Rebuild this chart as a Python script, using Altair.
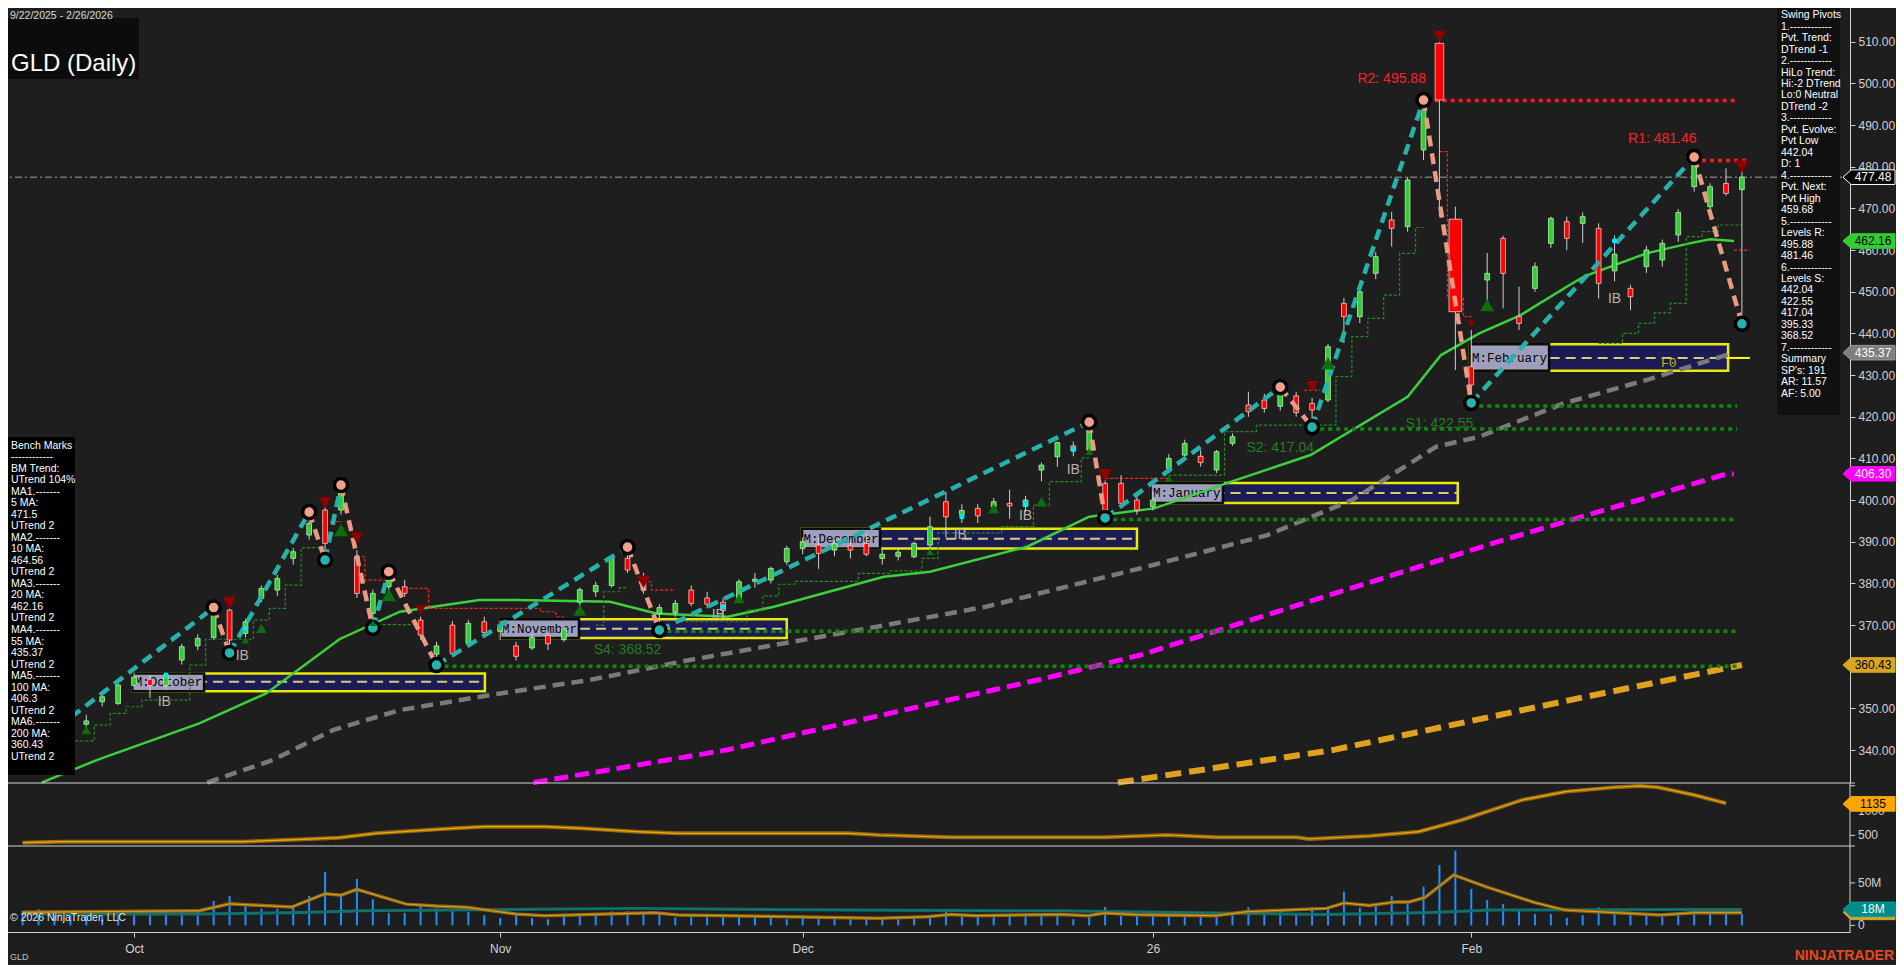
import altair as alt
import pandas as pd

# ---------------- daily bars (9/22/2025 .. 2/26/2026), index 0..108 ----------------
OPEN = [338.5, 341.0, 343.5, 344.0, 346.2, 351.6, 351.2, 355.5, 357.0, 355.5,
        361.6, 365.0, 367.0, 373.6, 368.0, 376.4, 378.4, 386.0, 391.6, 397.6,
        397.6, 386.4, 372.8, 379.2, 379.2, 371.2, 363.0, 370.0, 365.6, 370.8,
        368.5, 365.0, 364.5, 367.5, 366.5, 375.5, 378.0, 379.5, 386.0, 381.6,
        372.8, 373.0, 378.4, 376.5, 375.5, 376.0, 380.5, 380.8, 385.2, 388.4,
        389.2, 388.0, 389.0, 389.6, 386.0, 386.5, 386.4, 389.2, 399.6, 396.5,
        398.0, 398.4, 399.2, 398.5, 407.2, 410.4, 413.0, 412.0, 404.0, 404.0,
        400.0, 398.4, 407.6, 410.8, 410.5, 407.2, 413.6, 422.8, 424.0, 422.5,
        425.0, 423.2, 424.0, 447.2, 444.0, 454.4, 467.2, 465.6, 484.0, 509.6,
        467.4, 432.0, 452.8, 462.8, 444.0, 450.8, 461.6, 466.8, 466.4, 465.2,
        455.0, 450.8, 456.0, 457.6, 463.6, 475.2, 470.4, 476.0, 474.5]
HIGH = [341.5, 344.0, 345.5, 346.5, 348.4, 353.5, 356.0, 358.5, 358.0, 358.5,
        365.5, 367.8, 374.2, 374.0, 371.5, 379.5, 382.0, 388.5, 397.1, 398.5,
        403.6, 388.0, 378.5, 382.8, 380.8, 372.0, 366.0, 371.0, 371.2, 372.0,
        371.0, 366.0, 368.0, 368.5, 370.0, 379.0, 380.4, 386.8, 388.7, 382.5,
        375.0, 376.0, 379.5, 378.0, 376.5, 381.0, 382.5, 384.0, 389.0, 391.0,
        391.0, 390.5, 390.5, 392.0, 388.0, 388.5, 390.0, 396.0, 402.0, 399.0,
        399.0, 400.5, 402.5, 401.0, 409.0, 414.0, 414.0, 418.7, 406.0, 406.0,
        401.5, 402.0, 411.0, 414.5, 412.0, 412.0, 416.0, 426.0, 425.5, 427.1,
        426.0, 424.5, 437.5, 448.5, 451.5, 459.5, 469.2, 477.5, 496.0, 510.0,
        470.4, 440.8, 459.3, 463.4, 451.2, 457.0, 468.0, 468.0, 469.0, 466.4,
        463.5, 451.6, 461.0, 462.5, 469.8, 481.5, 476.0, 479.6, 479.0]
LOW = [337.5, 340.0, 342.0, 342.5, 344.0, 350.5, 350.8, 354.5, 352.5, 354.5,
       360.5, 364.0, 366.5, 363.3, 366.0, 375.5, 377.0, 384.5, 390.5, 385.6,
       396.5, 376.5, 369.2, 377.5, 376.8, 366.5, 360.4, 362.5, 365.0, 367.5,
       366.5, 361.5, 364.0, 364.0, 366.0, 374.5, 376.8, 379.0, 382.5, 377.5,
       368.8, 372.0, 374.5, 374.0, 371.5, 375.5, 379.0, 380.0, 384.5, 387.0,
       383.5, 386.5, 386.0, 386.5, 384.5, 385.5, 386.0, 388.5, 391.0, 394.5,
       394.5, 397.5, 395.5, 397.0, 404.5, 408.0, 410.5, 411.5, 395.7, 398.5,
       396.5, 397.5, 406.5, 410.0, 408.0, 406.5, 413.0, 420.0, 421.0, 421.5,
       420.0, 417.5, 423.5, 437.7, 442.5, 453.0, 460.8, 464.4, 481.6, 468.0,
       431.2, 423.3, 446.1, 446.0, 440.8, 450.0, 460.5, 460.0, 461.7, 448.4,
       452.5, 445.6, 454.5, 456.0, 462.0, 474.0, 469.0, 473.0, 442.3]
CLOSE = [340.8, 343.5, 344.0, 345.8, 347.0, 352.8, 355.6, 357.5, 355.5, 357.8,
         364.8, 366.8, 372.8, 366.4, 370.8, 378.8, 381.2, 387.6, 394.4, 389.6,
         401.6, 377.6, 377.6, 380.8, 377.6, 367.6, 365.0, 363.2, 370.4, 368.2,
         369.5, 362.5, 367.0, 365.5, 369.0, 378.5, 379.5, 386.0, 383.2, 378.4,
         374.2, 375.2, 375.2, 375.0, 373.5, 380.4, 381.0, 383.6, 388.4, 390.0,
         387.2, 389.5, 388.0, 387.0, 387.0, 387.5, 389.6, 393.6, 396.0, 397.5,
         396.2, 399.6, 398.6, 400.0, 408.4, 413.8, 411.8, 417.0, 397.6, 399.2,
         397.6, 400.0, 410.0, 413.6, 409.0, 411.6, 415.2, 421.2, 422.0, 425.5,
         421.0, 421.6, 436.8, 444.0, 450.0, 458.4, 465.2, 476.8, 493.6, 496.0,
         445.2, 427.6, 454.4, 454.4, 442.4, 456.0, 467.6, 462.8, 468.0, 452.0,
         459.0, 448.8, 460.0, 461.6, 469.0, 480.8, 475.2, 473.6, 477.48]
VOLUME_M = [17, 19, 15, 17, 15, 17, 17, 17, 17.5, 17,
            18, 18.5, 28.7, 34.6, 25, 19.5, 19.5, 22, 34.6, 62.8,
            37, 54.6, 30.7, 14.6, 14.6, 24.4, 20, 19, 15.8, 12,
            8.7, 12, 8.7, 7.2, 12, 13.7, 11, 16.5, 16.5, 15.8,
            15, 9.2, 12, 13.7, 13.7, 11, 11, 9.8, 7.2, 12,
            8.7, 9.8, 7.8, 9.8, 7.2, 7.2, 7.8, 12, 18, 12,
            9.8, 11, 12, 10.6, 13.7, 13.7, 7.2, 11, 21.6, 11,
            11, 11, 13.7, 12, 12, 11, 13.7, 21.2, 16.9, 19,
            13.7, 21.6, 21.6, 39.7, 20.8, 23.1, 34.9, 27.8, 45.6, 71,
            87.9, 42.9, 30, 25.1, 18, 13.3, 13.3, 8.9, 12, 21.2,
            13.3, 12, 11, 9.8, 13.7, 18, 13.7, 13.7, 13.7]

TICK_IDX = [7, 30, 49, 71, 91]
TICK_LBL = ["Oct", "Nov", "Dec", "26", "Feb"]
PRICE_TICKS = [340, 350, 360, 370, 380, 390, 400, 410, 420, 430, 440, 450, 460, 470, 480, 490, 500, 510]
IND_TICKS = [500, 1000, 1500]
IND_TICK_LBL = ["500", "1000", ""]
VOL_TICKS = [0, 50]
VOL_TICK_LBL = ["0", "50M"]

# moving averages (bar index, value)
MA20_I = [1.2, 4.65, 11.1, 15.3, 19.9, 23.7, 25.8, 28.7, 31, 36.9, 39.8, 44.3, 47.2, 54.1, 57, 63.1,
          67, 71.1, 75.6, 80.9, 87, 89.1, 91.5, 94.1, 97, 98.1, 102, 104.7, 106, 107.5]
MA20_V = [332.2, 337.6, 346.4, 353.6, 366.6, 373.2, 374.4, 376.0, 376.0, 375.6, 372.8, 372.0, 374.4, 381.6,
          382.8, 388.8, 396.0, 398.0, 404.0, 410.8, 424.8, 434.8, 440.0, 444.4, 451.2, 453.7, 459.2, 461.6,
          462.6, 462.16]
MA55_I = [11.6, 15.7, 19.5, 23.7, 30, 35.6, 41.9, 52.5, 60.5, 70.2, 78.2, 83.5, 88.8, 91.5, 96.8, 102, 107.5]
MA55_V = [332.2, 337.6, 344.8, 349.6, 353.6, 356.8, 361.6, 368.8, 374.4, 383.6, 391.6, 400.0, 412.8, 415.2,
          423.2, 428.8, 435.37]
MA100_I = [32.1, 44.2, 64.2, 70.2, 93, 106.8, 107.5]
MA100_V = [332.2, 340.0, 357.2, 362.8, 390.4, 406.0, 406.3]
MA200_I = [68.8, 82.3, 97.7, 108]
MA200_V = [332.2, 340.0, 352.4, 360.43]

# swing pivots
PIVOT_I = [12, 13, 18, 19, 20, 22, 23, 26, 38, 40, 67, 68, 79, 81, 88, 91, 105, 108]
PIVOT_P = [374.2, 363.3, 397.1, 385.6, 403.6, 369.3, 382.8, 360.4, 388.7, 368.8, 418.7, 395.7, 427.1,
           417.5, 496.0, 423.3, 482.3, 442.3]
PIVOT_T = ["H", "L", "H", "L", "H", "L", "H", "L", "H", "L", "H", "L", "H", "L", "H", "L", "H", "L"]
ZIG_START = (-1.42, 334.8)

# support / resistance levels
LEVEL_NAME = ["R2", "R1", "S1", "S2", "S3", "S4", "S5"]
LEVEL_P = [495.88, 481.46, 422.55, 417.04, 395.33, 368.52, 360.12]
LEVEL_FROM = [88.7, 105, 91, 81, 68, 40, 26]
LEVEL_TO = [107.7, 108.3, 107.7, 107.7, 107.7, 107.7, 107.7]
LEVEL_TXT = ["R2: 495.88", "R1: 481.46", "S1: 422.55", "S2: 417.04", "S3: 395.33", "S4: 368.52", "S5: 360.12"]
LEVEL_TXT_I = [86.0, 103.0, 89.0, 79.0, 66.0, 38.0, 24.0]
LEVEL_TXT_P = [501.0, 486.6, 418.2, 412.6, 390.8, 364.0, 355.4]

# monthly boxes
MONTH_LABEL = ["M:October", "M:November", "M:December", "M:January", "M:February"]
MONTH_X0 = [6.94, 29.99, 48.96, 70.85, 90.9]
MONTH_X1 = [29.04, 48.0, 70.0, 90.15, 107.13]
MONTH_TAG_X1 = [11.40, 34.95, 53.86, 75.40, 95.89]
MONTH_LO = [354.1, 366.9, 388.4, 399.3, 431.0]
MONTH_HI = [358.4, 371.4, 393.1, 404.1, 437.4]
MONTH_MID = [356.4, 369.1, 390.7, 401.7, 434.1]

# trailing step lines (segment -> bars, values)
GSTEP = {
    "a": ([3, 4, 5, 6, 7, 8, 9, 10, 11, 12, 13, 14, 15, 16, 17, 18, 19],
          [342.2, 342.2, 346, 348.8, 350.4, 352, 352, 352, 360.4, 366.6, 366.6, 366.6, 371.2, 374, 379.6, 388.6, 388.6]),
    "b": ([22, 23, 24, 25], [370.1, 370.1, 370.1, 370.1]),
    "c": ([36, 37, 38], [370, 378, 379]),
    "d": ([41, 42, 43, 44, 45, 46, 47, 48, 49, 50, 51, 52, 53, 54, 55, 56, 57, 58, 59, 60, 61, 62, 63, 64, 65, 66, 67],
          [370.8, 370.8, 370.8, 370.8, 370.8, 373.6, 377, 379.8, 380.5, 380.5, 380.5, 380.5, 382.4, 382.4, 383, 383,
           386, 392.1, 392.1, 392.1, 392.1, 393.6, 393.6, 398.8, 404.4, 404.4, 410.1]),
    "e": ([72, 73, 74, 75, 76, 77, 78, 79, 80, 81, 82, 83, 84, 85, 86, 87, 88],
          [406, 406, 406, 406, 416.4, 416.4, 418, 418, 418, 418, 418, 429.6, 439.2, 443.6, 449.2, 459.2, 465.4]),
    "f": ([99, 100, 101, 102, 103, 104, 105, 106, 107, 108],
          [437.6, 437.6, 440, 442.4, 444.9, 447.2, 463.2, 464.4, 466, 466]),
}
RSTEP = {
    "a": ([19, 20], [394.8, 394.8]),
    "b": ([21, 22, 23], [386.4, 380.8, 380.8]),
    "c": ([24, 25, 26, 27, 28, 29, 30, 31, 32, 33, 34], [378.8, 378.8, 374, 374, 374, 374, 374, 374, 374, 373.2, 372]),
    "d": ([39, 40, 41], [380.4, 378.4, 378.4]),
    "e": ([68, 69, 70, 71, 72], [405.2, 405.2, 405.2, 405.2, 405.2]),
    "f": ([80.5, 81.5], [426.4, 426.4]),
    "g": ([89, 90, 91], [483.6, 448.6, 444.0]),
    "h": ([107.5, 108.5], [460, 460]),
}

TRI_UP_I = [4, 14, 15, 20, 22, 23, 35, 45, 57, 61, 64, 67, 72, 82, 92]
TRI_UP_P = [344.8, 366.4, 369.2, 392.8, 370.5, 377.2, 373.6, 376.4, 387.6, 398.0, 399.6, 411.6, 405.2, 432.8, 446.8]
TRI_UP_S = [90, 60, 110, 200, 50, 200, 170, 120, 60, 120, 120, 60, 60, 200, 200]
TRI_DN_I = [13, 19, 21, 25, 39, 68, 81, 89, 91, 108]
TRI_DN_P = [375.3, 399.3, 390.9, 373.6, 380.4, 406.0, 427.2, 511.2, 442.2, 480.0]
TRI_DN_S = [200, 170, 170, 120, 200, 200, 170, 200, 60, 200]

IB_I = [8.9, 13.8, 43.7, 58.9, 63.0, 66.0, 100.0]
IB_P = [351.5, 362.6, 372.5, 391.7, 396.1, 407.2, 448.3]
DOT_I = [9, 14, 44, 59, 63, 66, 100]
DOT_P = [358.0, 369.2, 374.4, 396.0, 399.0, 412.2, 462.2]

VOL_AVG_I = [0, 11.1, 13, 16.9, 19, 20, 21, 24.1, 26, 27.9, 31, 32.8, 36.6, 39.7, 41.2, 48.1, 53.8, 56.8, 58.3,
             59.9, 65.3, 66.9, 68, 69.9, 74.9, 76.9, 81.9, 83, 84.6, 86.2, 87.1, 88.1, 89.9, 91.9, 95, 96.9,
             98.9, 102.9, 105, 108]
VOL_AVG_V = [15.4, 17.2, 25.3, 21.6, 37.3, 35.5, 42.3, 25, 22.7, 21.2, 13.3, 11.4, 13.3, 14.9, 12.2, 10.2, 8.3,
             10.2, 12.9, 11.4, 12.9, 11.4, 14.5, 12.6, 11.4, 16.1, 20, 26.3, 23.5, 27.5, 27.5, 33, 59.3, 45.6,
             26.7, 18, 16.1, 12.2, 14.9, 14.9]
VOL_SLOW_I = [0, 11, 17.6, 21.4, 29, 38.5, 51.9, 58.3, 65, 73.8, 81.8, 88.5, 92.3, 103.9, 108]
VOL_SLOW_V = [13.3, 13.3, 15.2, 17.2, 18.4, 20, 18, 17.4, 17.2, 14.9, 12.9, 15.2, 18, 18.8, 18.6]

IND_I = [0, 2.4, 13.8, 17.6, 19.9, 22.2, 27.1, 29, 32.8, 35.1, 38.6, 41.2, 51.9, 53.8, 58.3, 68, 71.9, 75, 80,
         80.8, 84.6, 87.7, 90.4, 94.2, 96.9, 100, 101.6, 102.7, 105, 107]
IND_V = [353, 373, 373, 421, 454, 542, 643, 675, 675, 643, 575, 542, 542, 508, 462, 462, 508, 462, 462, 427,
         488, 575, 810, 1214, 1381, 1470, 1496, 1470, 1315, 1147]

PRICE_TAGS = [477.48, 462.16, 435.37, 406.30, 360.43]
PRICE_TAG_TXT = ["477.48", "462.16", "435.37", "406.30", "360.43"]
PRICE_TAG_FILL = ["#000000", "#33cc33", "#7f7f7f", "#ff00ff", "#daa520"]
PRICE_TAG_EDGE = ["#ffffff", "#33cc33", "#9a9a9a", "#ff00ff", "#daa520"]
PRICE_TAG_TC = ["#ffffff", "#000000", "#ffffff", "#ffffff", "#000000"]

SWING_LINES = ["Swing Pivots", "1.------------", "Pvt. Trend:", "DTrend -1", "2.------------", "HiLo Trend:",
               "Hi:-2 DTrend", "Lo:0 Neutral", "DTrend -2", "3.------------", "Pvt. Evolve:", "Pvt Low",
               "442.04", "D: 1", "4.------------", "Pvt. Next:", "Pvt High", "459.68", "5.------------",
               "Levels R:", "495.88", "481.46", "6.------------", "Levels S:", "442.04", "422.55", "417.04",
               "395.33", "368.52", "7.------------", "Summary", "SP's: 191", "AR: 11.57", "AF: 5.00"]
BENCH_LINES = ["Bench Marks", "------------", "BM Trend:", "UTrend 104%", "MA1.-------", "5 MA:", "471.5",
               "UTrend 2", "MA2.-------", "10 MA:", "464.56", "UTrend 2", "MA3.-------", "20 MA:", "462.16",
               "UTrend 2", "MA4.-------", "55 MA:", "435.37", "UTrend 2", "MA5.-------", "100 MA:", "406.3",
               "UTrend 2", "MA6.-------", "200 MA:", "360.43", "UTrend 2"]

# ---------------- layout (chart coordinates = screen coordinates - 8px page margin) ----------------
OFF = 8
TOTAL_W, TOTAL_H = 1888, 957
W, H = 1850 - OFF, 932 - OFF
WIDE_BODY = {89: 0.27, 90: 0.40}
BODY_HALF = 0.15

XS = alt.Scale(domain=[-1.42, 114.79], range=[-OFF, W], nice=False, zero=False)
PS = alt.Scale(domain=[332.1, 520.0], range=[783 - OFF, -OFF], nice=False, zero=False)
IS = alt.Scale(domain=[286.0, 1556.0], range=[846 - OFF, 783 - OFF], nice=False, zero=False)
VS = alt.Scale(domain=[-7.8, 93.4], range=[932 - OFF, 846 - OFF], nice=False, zero=False)

FG = "#d2d2d2"
SANS = "Liberation Sans, Arial, sans-serif"
NARROW = "Liberation Sans Narrow, Arial Narrow, Liberation Sans, sans-serif"

label_expr = " : ".join(f"datum.value == {v} ? '{t}'" for v, t in zip(TICK_IDX, TICK_LBL)) + " : ''"
XAXIS = alt.Axis(values=TICK_IDX, labelExpr=label_expr, orient="bottom", grid=False, title=None,
                 domainColor=FG, tickColor=FG, labelColor=FG, tickSize=5, labelPadding=6,
                 labelFont=SANS, labelFontSize=12, labelFlush=False)
PAXIS = alt.Axis(orient="right", values=PRICE_TICKS, format=".2f", grid=False, title=None,
                 domainColor=FG, tickColor=FG, labelColor=FG, tickSize=5, labelPadding=3,
                 labelFont=NARROW, labelFontSize=12, labelFlush=False)


def X(f):
    return alt.X(f, type="quantitative", scale=XS, axis=XAXIS)


def Y(f, s=PS, axis=None):
    return alt.Y(f, type="quantitative", scale=s, axis=axis)


def line(xs, ys, scale, **mk):
    df = pd.DataFrame({"x": xs, "y": ys})
    return alt.Chart(df).mark_line(**mk).encode(x=X("x"), y=Y("y", scale))


DUMMY = pd.DataFrame({"a": [0]})
layers = []

# level labels that sit beneath the monthly boxes
lvl = pd.DataFrame({"t": LEVEL_TXT, "x": LEVEL_TXT_I, "y": LEVEL_TXT_P, "n": LEVEL_NAME})
layers.append(alt.Chart(lvl[lvl.n.isin(["S3", "S5"])]).mark_text(
    font=NARROW, fontSize=14, color="#1e7d1e").encode(x=X("x"), y=Y("y"), text="t:N"))

# monthly boxes
mb = pd.DataFrame({"lab": MONTH_LABEL, "x0": MONTH_X0, "x1": MONTH_X1, "tx1": MONTH_TAG_X1,
                   "lo": MONTH_LO, "hi": MONTH_HI, "mid": MONTH_MID})
mb["tc"] = (mb.x0 + mb.tx1) / 2
layers.append(alt.Chart(mb).mark_rect(fill="#1b1b5c", opacity=0.9, stroke="#ffff00", strokeWidth=2.5)
              .encode(x=X("x0"), x2="x1", y=Y("lo"), y2="hi"))
layers.append(alt.Chart(mb).mark_rule(color="#d8cf6a", strokeWidth=2, strokeDash=[10, 6])
              .encode(x=X("x0"), x2="x1", y=Y("mid")))
layers.append(alt.Chart(mb).mark_rect(fill="#a6a6c4", stroke="#000000", strokeWidth=2.5, opacity=0.95)
              .encode(x=X("x0"), x2="tx1", y=Y("lo"), y2="hi"))
layers.append(alt.Chart(mb).mark_text(font="Liberation Mono, monospace", fontSize=12.5, color="#000000")
              .encode(x=X("tc"), y=Y("mid"), text="lab:N"))
feb_ext = pd.DataFrame({"x0": [MONTH_X1[4]], "x1": [108.5], "y": [MONTH_MID[4]]})
layers.append(alt.Chart(feb_ext).mark_rule(color="#ffff00", strokeWidth=2)
              .encode(x=X("x0"), x2="x1", y=Y("y")))
layers.append(alt.Chart(pd.DataFrame({"x": [103.4], "y": [432.8], "t": ["F0"]}))
              .mark_text(font="Liberation Mono, monospace", fontSize=13, color="#c8b400")
              .encode(x=X("x"), y=Y("y"), text="t:N"))

# last price dash-dot line
layers.append(alt.Chart(pd.DataFrame({"x0": [-1.42], "x1": [114.79], "y": [CLOSE[-1]]}))
              .mark_rule(color="#a0a0a0", strokeWidth=1, strokeDash=[7, 3, 2, 3])
              .encode(x=X("x0"), x2="x1", y=Y("y")))

# moving averages
layers.append(line(MA200_I, MA200_V, PS, color="#e0a21e", strokeWidth=6, strokeDash=[16, 8], clip=True))
layers.append(line(MA100_I, MA100_V, PS, color="#ff00ff", strokeWidth=5, strokeDash=[14, 7], clip=True))
layers.append(line(MA55_I, MA55_V, PS, color="#7a7a7a", strokeWidth=4.5, strokeDash=[12, 7], clip=True))
layers.append(line(MA20_I, MA20_V, PS, color="#3cd03c", strokeWidth=2.5, clip=True))

# support / resistance dotted levels
lv = pd.DataFrame({"n": LEVEL_NAME, "p": LEVEL_P, "x0": LEVEL_FROM, "x1": LEVEL_TO})
layers.append(alt.Chart(lv[lv.n.str.startswith("R")]).mark_rule(color="#ff1a1a", strokeWidth=3.5, strokeDash=[4, 4])
              .encode(x=X("x0"), x2="x1", y=Y("p")))
layers.append(alt.Chart(lv[lv.n.str.startswith("S")]).mark_rule(color="#0a8a0a", strokeWidth=3.5, strokeDash=[4, 4])
              .encode(x=X("x0"), x2="x1", y=Y("p")))


# trailing step lines
def steps(d):
    rows = []
    for k, (xs, ys) in d.items():
        for a, b in zip(xs, ys):
            rows.append({"seg": k, "x": a, "y": b})
    return pd.DataFrame(rows)


layers.append(alt.Chart(steps(GSTEP)).mark_line(interpolate="step", color="#1f8f1f", strokeWidth=1.2,
                                                 strokeDash=[3, 2])
              .encode(x=X("x"), y=Y("y"), detail="seg:N"))
layers.append(alt.Chart(steps(RSTEP)).mark_line(interpolate="step", color="#ff2020", strokeWidth=1.2,
                                                 strokeDash=[3, 2])
              .encode(x=X("x"), y=Y("y"), detail="seg:N"))

# candles
cdf = pd.DataFrame({"o": OPEN, "h": HIGH, "l": LOW, "c": CLOSE})
cdf["i"] = cdf.index
cdf["top"] = cdf[["o", "c"]].max(axis=1)
cdf["bot"] = cdf[["o", "c"]].min(axis=1)
half = cdf.i.map(lambda k: WIDE_BODY.get(k, BODY_HALF))
cdf["bx0"] = cdf.i - half
cdf["bx1"] = cdf.i + half
layers.append(alt.Chart(cdf).mark_rule(color="#cfcfcf", strokeWidth=1)
              .encode(x=X("i"), y=Y("l", axis=PAXIS), y2="h"))
layers.append(alt.Chart(cdf[cdf.c >= cdf.o]).mark_rect(fill="#33cc33", stroke="#b8f0b8", strokeWidth=0.8)
              .encode(x=X("bx0"), x2="bx1", y=Y("bot"), y2="top"))
layers.append(alt.Chart(cdf[cdf.c < cdf.o]).mark_rect(fill="#ff0000", stroke="#ffc8c8", strokeWidth=0.8)
              .encode(x=X("bx0"), x2="bx1", y=Y("bot"), y2="top"))

# zigzag
pts = [ZIG_START] + list(zip(PIVOT_I, PIVOT_P))
types = ["L"] + PIVOT_T
zz = pd.DataFrame([{"x0": pts[k][0], "p0": pts[k][1], "x1": pts[k + 1][0], "p1": pts[k + 1][1],
                    "up": types[k] == "L"} for k in range(len(pts) - 1)])
layers.append(alt.Chart(zz[zz.up]).mark_rule(color="#25b2ab", strokeWidth=4.5, strokeDash=[11, 7], clip=True)
              .encode(x=X("x0"), x2="x1", y=Y("p0"), y2="p1"))
layers.append(alt.Chart(zz[~zz.up]).mark_rule(color="#e99a82", strokeWidth=4.5, strokeDash=[11, 7])
              .encode(x=X("x0"), x2="x1", y=Y("p0"), y2="p1"))

pv = pd.DataFrame({"x": PIVOT_I, "p": PIVOT_P, "t": PIVOT_T})
layers.append(alt.Chart(pv[pv.t == "H"]).mark_point(filled=True, size=170, color="#f2a08a", stroke="#000000",
                                                    strokeWidth=3.5, opacity=1)
              .encode(x=X("x"), y=Y("p")))
layers.append(alt.Chart(pv[pv.t == "L"]).mark_point(filled=True, size=170, color="#22b4ae", stroke="#000000",
                                                    strokeWidth=3.5, opacity=1)
              .encode(x=X("x"), y=Y("p")))

# triangles and dots
tu = pd.DataFrame({"x": TRI_UP_I, "p": TRI_UP_P, "s": TRI_UP_S})
layers.append(alt.Chart(tu).mark_point(shape="triangle-up", filled=True, color="#0b6e0b", opacity=1)
              .encode(x=X("x"), y=Y("p"), size=alt.Size("s:Q", scale=None)))
td = pd.DataFrame({"x": TRI_DN_I, "p": TRI_DN_P, "s": TRI_DN_S})
layers.append(alt.Chart(td).mark_point(shape="triangle-down", filled=True, color="#8b0000", opacity=1)
              .encode(x=X("x"), y=Y("p"), size=alt.Size("s:Q", scale=None)))
layers.append(alt.Chart(pd.DataFrame({"x": DOT_I, "p": DOT_P})).mark_point(filled=True, size=28, color="#00e5ff",
                                                                            opacity=1)
              .encode(x=X("x"), y=Y("p")))
layers.append(alt.Chart(pd.DataFrame({"x": IB_I, "p": IB_P, "t": ["IB"] * len(IB_I)}))
              .mark_text(font=NARROW, fontSize=14, color="#b8b0aa").encode(x=X("x"), y=Y("p"), text="t:N"))

# level labels
layers.append(alt.Chart(lvl[lvl.n.str.startswith("R")]).mark_text(font=NARROW, fontSize=14, color="#ff2020")
              .encode(x=X("x"), y=Y("y"), text="t:N"))
layers.append(alt.Chart(lvl[lvl.n.isin(["S1", "S2", "S4"])]).mark_text(font=NARROW, fontSize=14, color="#1e7d1e")
              .encode(x=X("x"), y=Y("y"), text="t:N"))

# volume panel
vdf = pd.DataFrame({"v": VOLUME_M})
vdf["i"] = vdf.index
vdf["z"] = 0
layers.append(alt.Chart(vdf).mark_rule(color="#1e90ff", strokeWidth=2).encode(x=X("i"), y=Y("z", VS), y2="v"))
layers.append(line(VOL_SLOW_I, VOL_SLOW_V, VS, color="#0f7070", strokeWidth=3))
layers.append(line(VOL_AVG_I, VOL_AVG_V, VS, color="#8b6914", strokeWidth=3.5))
layers.append(line(VOL_AVG_I, VOL_AVG_V, VS, color="#e8a020", strokeWidth=1))

# indicator panel
layers.append(line(IND_I, IND_V, IS, color="#8b6914", strokeWidth=4))
layers.append(line(IND_I, IND_V, IS, color="#ffa500", strokeWidth=1.2))

# panel separators and right edge
layers.append(alt.Chart(pd.DataFrame({"x0": [-1.42], "x1": [115.1], "y": [332.1]}))
              .mark_rule(color=FG, strokeWidth=1).encode(x=X("x0"), x2="x1", y=Y("y")))
layers.append(alt.Chart(pd.DataFrame({"x0": [-1.42], "x1": [115.1], "y": [286.0]}))
              .mark_rule(color=FG, strokeWidth=1).encode(x=X("x0"), x2="x1", y=Y("y", IS)))
layers.append(alt.Chart(pd.DataFrame({"x": [114.79], "a": [286.0], "b": [1556.0]}))
              .mark_rule(color=FG, strokeWidth=1).encode(x=X("x"), y=Y("a", IS), y2="b"))
layers.append(alt.Chart(pd.DataFrame({"x": [114.79], "a": [-7.8], "b": [93.4]}))
              .mark_rule(color=FG, strokeWidth=1).encode(x=X("x"), y=Y("a", VS), y2="b"))
it = pd.DataFrame({"y": IND_TICKS, "t": IND_TICK_LBL, "x0": 114.79, "x1": 115.11})
layers.append(alt.Chart(it).mark_rule(color=FG).encode(x=X("x0"), x2="x1", y=Y("y", IS)))
layers.append(alt.Chart(it).mark_text(align="left", baseline="middle", font=NARROW, fontSize=12, color=FG)
              .encode(x=alt.value(W + 8), y=Y("y", IS), text="t:N"))
vt = pd.DataFrame({"y": VOL_TICKS, "t": VOL_TICK_LBL, "x0": 114.79, "x1": 115.11})
layers.append(alt.Chart(vt).mark_rule(color=FG).encode(x=X("x0"), x2="x1", y=Y("y", VS)))
layers.append(alt.Chart(vt).mark_text(align="left", baseline="middle", font=NARROW, fontSize=12, color=FG)
              .encode(x=alt.value(W + 8), y=Y("y", VS), text="t:N"))

# right-hand value tags (tip at the axis, body to the right edge)
TAG = "M -1 0 L -0.69 -0.28 L 1 -0.28 L 1 0.28 L -0.69 0.28 Z"
TAG_W = 52


def tags(vals, txt, fill, edge, tc, scale):
    df = pd.DataFrame({"p": vals, "t": txt, "f": fill, "e": edge, "tc": tc})
    a = alt.Chart(df).mark_point(shape=TAG, size=TAG_W * TAG_W, filled=True, opacity=1, strokeWidth=1).encode(
        x=alt.value(W - 7 + TAG_W / 2), y=Y("p", scale), fill=alt.Fill("f:N", scale=None),
        stroke=alt.Stroke("e:N", scale=None))
    b = alt.Chart(df).mark_text(align="center", baseline="middle", font=NARROW, fontSize=12).encode(
        x=alt.value(W - 7 + TAG_W / 2 + 4), y=Y("p", scale), text="t:N", color=alt.Color("tc:N", scale=None))
    return [a, b]


layers += tags(PRICE_TAGS, PRICE_TAG_TXT, PRICE_TAG_FILL, PRICE_TAG_EDGE, PRICE_TAG_TC, PS)
layers += tags([1135], ["1135"], ["#ffa500"], ["#ffa500"], ["#000000"], IS)
layers += tags([15.3], [""], ["#daa520"], ["#daa520"], ["#000000"], VS)
layers += tags([18.8], ["18M"], ["#008b8b"], ["#00a0a0"], ["#ffffff"], VS)


# info boxes (screen-space annotations)
def box(x0, y0, x1, y1, fill):
    return alt.Chart(DUMMY).mark_rect(fill=fill).encode(
        x=alt.value(x0 - OFF), x2=alt.value(x1 - OFF), y=alt.value(y0 - OFF), y2=alt.value(y1 - OFF))


def txt(x, y, t, **mk):
    return alt.Chart(DUMMY).mark_text(text=t, **mk).encode(x=alt.value(x - OFF), y=alt.value(y - OFF))


layers.append(box(7, 18, 139, 79, "#0c0c0c"))
layers.append(txt(11, 71, "GLD (Daily)", align="left", baseline="alphabetic", font=SANS, fontSize=24,
                  color="#ffffff"))
layers.append(txt(10, 16, "9/22/2025 - 2/26/2026", align="left", baseline="middle", font=SANS, fontSize=10.5,
                  color="#d8d8d8"))
layers.append(box(1777, 7, 1840, 415, "#101010"))
layers.append(txt(1781, 10.2, SWING_LINES, align="left", baseline="top", font=SANS, fontSize=10.5,
                  lineHeight=11.47, color="#ffffff"))
layers.append(box(7, 437, 75, 775, "#000000"))
layers.append(txt(11, 440.5, BENCH_LINES, align="left", baseline="top", font=SANS, fontSize=10.5,
                  lineHeight=11.53, color="#ffffff"))
layers.append(txt(10, 918, "\u00a9 2026 NinjaTrader, LLC", align="left", baseline="middle", font=SANS,
                  fontSize=10.5, color="#e6e6e6"))
layers.append(txt(10, 957, "GLD", align="left", baseline="middle", font=SANS, fontSize=9, color="#c0c0c0"))
layers.append(txt(1894, 956, "NINJATRADER", align="right", baseline="middle", font=SANS, fontSize=14,
                  fontWeight="bold", color="#e8461e"))

chart = alt.layer(*layers).resolve_scale(y="independent").properties(
    width=W, height=H,
    autosize=alt.AutoSizeParams(type="none"),
    padding={"left": 0, "top": 0, "right": TOTAL_W - W, "bottom": TOTAL_H - H},
    background="#1e1e1e",
).configure_view(strokeWidth=0)

chart.save("out.html", embed_options={"renderer": "svg", "actions": False})
